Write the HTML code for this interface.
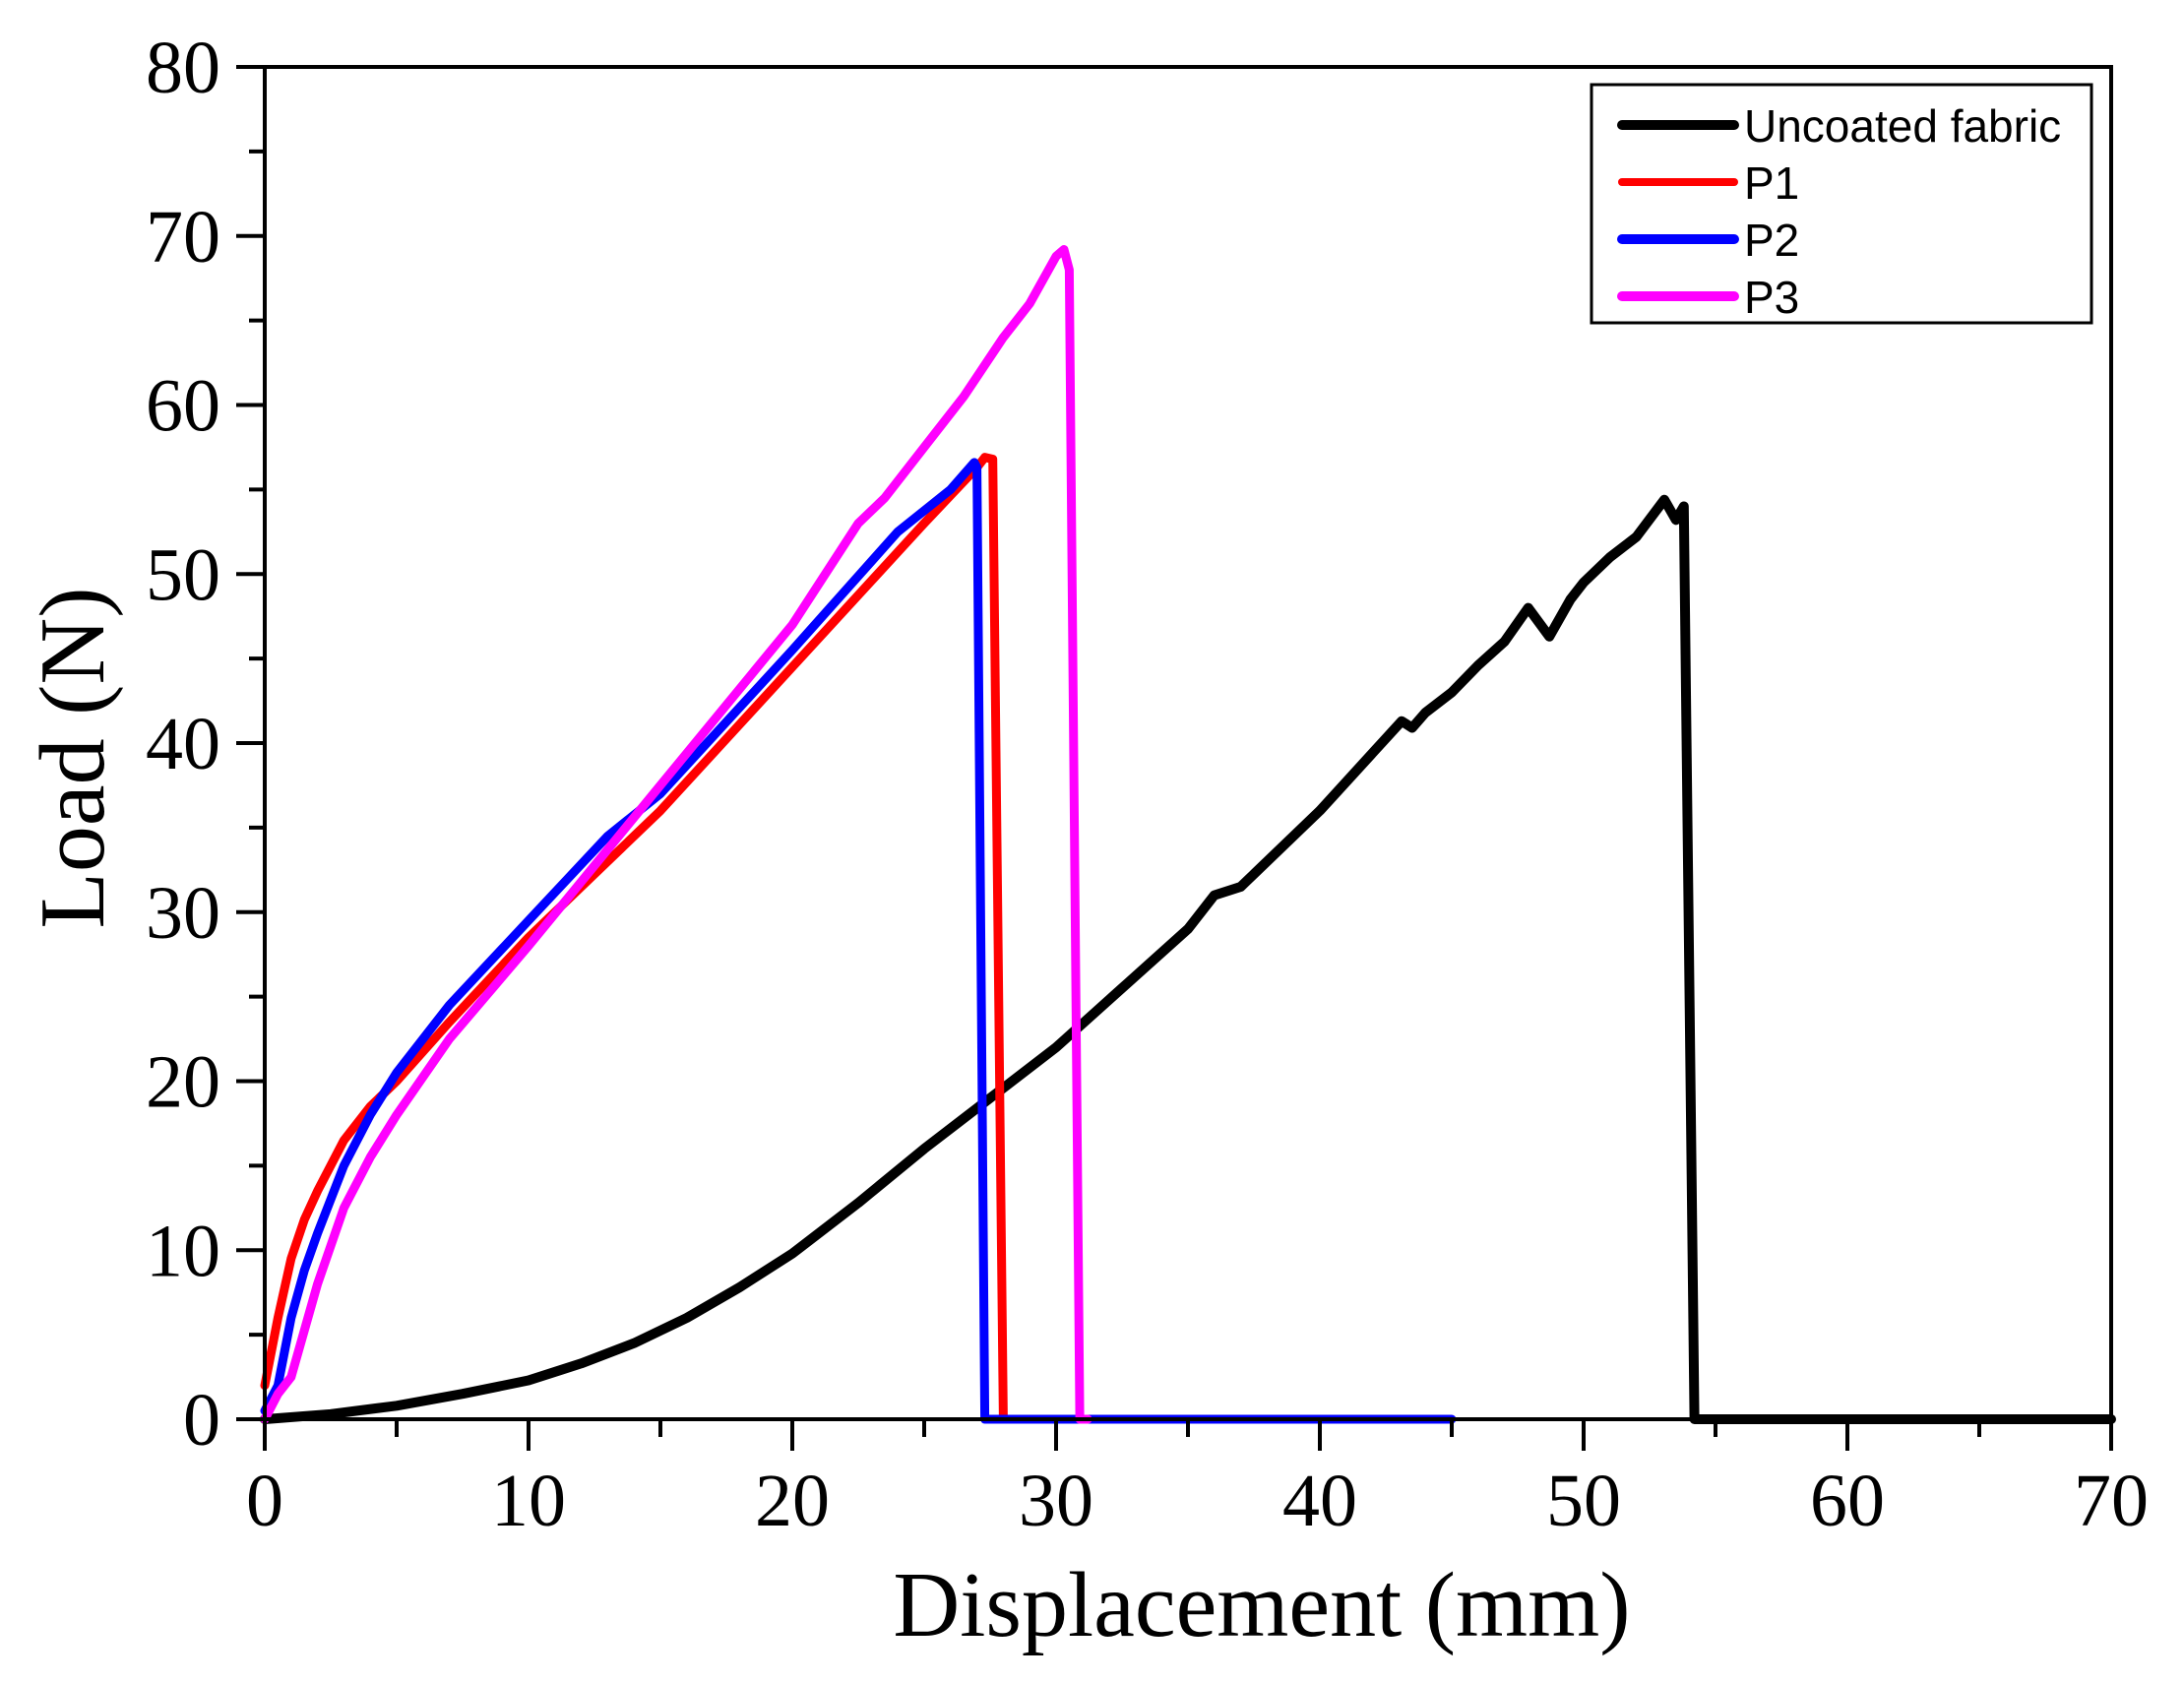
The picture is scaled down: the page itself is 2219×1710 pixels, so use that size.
<!DOCTYPE html>
<html><head><style>body{margin:0;background:#fff}svg{display:block}</style></head><body>
<svg width="2219" height="1710" viewBox="0 0 2219 1710" xmlns="http://www.w3.org/2000/svg">
<rect width="2219" height="1710" fill="#fff"/>
<g id="plot" fill="none" stroke-linejoin="round" stroke-linecap="round"></g>
<rect x="269" y="68" width="1876" height="1374" fill="none" stroke="#000" stroke-width="4"/>
<g id="ticks" stroke="#000" stroke-width="4"></g>
<g id="labels" font-family="Liberation Serif, serif" font-size="76" fill="#000"></g>
<text x="1282" y="1662" font-family="Liberation Serif, serif" font-size="94" text-anchor="middle">Displacement (mm)</text>
<text transform="translate(105,770) rotate(-90)" font-family="Liberation Serif, serif" font-size="94" text-anchor="middle">Load (N)</text>
<rect x="1617" y="86" width="508" height="242" fill="#fff" stroke="#000" stroke-width="3"/>
<g stroke-width="10" stroke-linecap="round">
<line x1="1648" y1="127" x2="1762" y2="127" stroke="#000"/>
<line x1="1648" y1="185" x2="1762" y2="185" stroke="#f00" stroke-width="8"/>
<line x1="1648" y1="243" x2="1762" y2="243" stroke="#00f"/>
<line x1="1648" y1="301" x2="1762" y2="301" stroke="#f0f"/>
</g>
<g font-family="Liberation Sans, sans-serif" font-size="46" fill="#000">
<text x="1772" y="144">Uncoated fabric</text>
<text x="1772" y="202">P1</text>
<text x="1772" y="260">P2</text>
<text x="1772" y="318">P3</text>
</g>
<script>
const X=m=>269+26.8*m, Y=n=>1442-17.175*n;
const series=[
["#000",10,[[0,0],[2.5,0.3],[5,0.8],[7.5,1.5],[10,2.3],[12,3.3],[14,4.5],[16,6],[18,7.8],[20,9.8],[22.5,12.8],[25,16],[27.5,19],[30,22],[32.5,25.5],[35,29],[36,31],[37,31.5],[40,36],[43.1,41.3],[43.5,40.9],[44,41.8],[45,43],[46,44.6],[47,46],[47.9,48],[48.7,46.3],[49.5,48.5],[50,49.5],[51,51],[52,52.2],[53.06,54.4],[53.5,53.2],[53.8,54],[54.2,0],[70,0]]],
["#f00",9,[[0,2],[0.5,6],[1,9.5],[1.5,11.8],[2,13.5],[3,16.5],[4,18.5],[5,20],[7,23.5],[10,28.5],[15,36],[20,44.5],[25,53],[27,56.3],[27.3,56.9],[27.6,56.8],[28,0],[37,0]]],
["#00f",9,[[0,0.5],[0.5,2],[1,6],[1.5,8.8],[2,11],[3,15],[4,18],[5,20.5],[7,24.5],[10,29.5],[13,34.5],[15,37],[20,45.5],[24,52.5],[26,55],[26.9,56.6],[27,56.3],[27.3,0],[45,0]]],
["#f0f",9,[[0,0],[0.5,1.5],[1,2.5],[2,8],[3,12.5],[4,15.5],[5,18],[7,22.5],[10,28],[15,37.5],[20,47],[22.5,53],[23.5,54.5],[25,57.5],[26.5,60.5],[28,64],[29,66],[30,68.8],[30.3,69.2],[30.5,68],[30.9,0],[31.2,0]]]];
const ns="http://www.w3.org/2000/svg";
const g=document.getElementById('plot');
for(const [c,w,d] of series){const p=document.createElementNS(ns,'polyline');p.setAttribute('points',d.map(q=>X(q[0]).toFixed(1)+','+Y(q[1]).toFixed(1)).join(' '));p.setAttribute('stroke',c);p.setAttribute('stroke-width',w);g.appendChild(p);}
const t=document.getElementById('ticks'),L=document.getElementById('labels');
function ln(a,b,c,d){const l=document.createElementNS(ns,'line');l.setAttribute('x1',a);l.setAttribute('y1',b);l.setAttribute('x2',c);l.setAttribute('y2',d);t.appendChild(l);}
function tx(s,x,y,a){const e=document.createElementNS(ns,'text');e.setAttribute('x',x);e.setAttribute('y',y);e.setAttribute('text-anchor',a);e.textContent=s;L.appendChild(e);}
for(let m=0;m<=70;m+=5){const x=X(m);ln(x,1442,x,m%10?1460:1474);if(m%10==0)tx(m,x,1550,'middle');}
for(let n=0;n<=80;n+=5){const y=Y(n);ln(269,y,n%10?253:240,y);if(n%10==0)tx(n,224,y+26,'end');}
</script>
</svg>
</body></html>
